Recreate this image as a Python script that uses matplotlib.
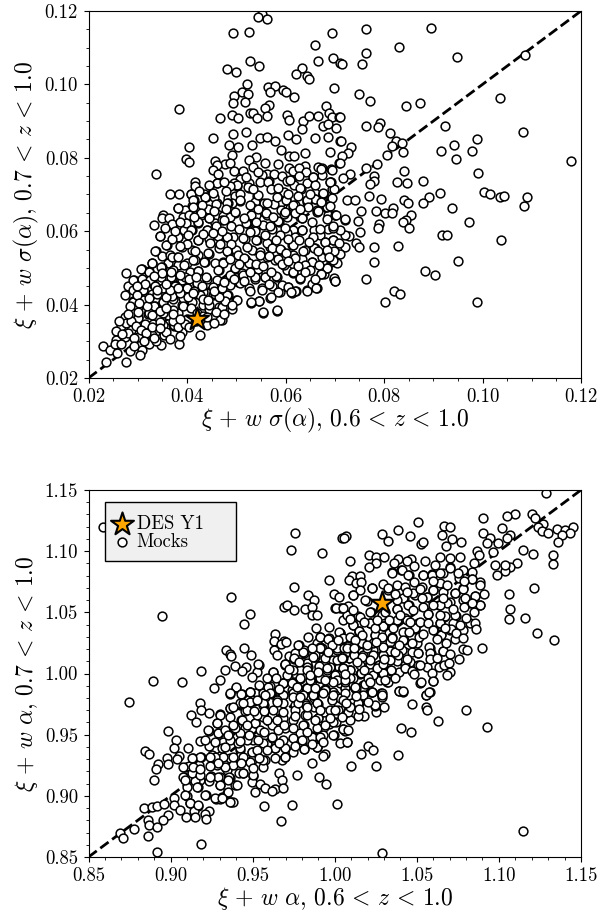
# Scatter of mock values vs DES Y1 for two redshift binnings
import numpy as np
import matplotlib
matplotlib.use('Agg')
import matplotlib.pyplot as plt
from matplotlib.ticker import MultipleLocator, FormatStrFormatter

plt.rcParams['font.family'] = ['cmr10', 'DejaVu Serif']
plt.rcParams['mathtext.fontset'] = 'cm'
plt.rcParams['axes.formatter.use_mathtext'] = True

# values: (0.6<z<1.0, 0.7<z<1.0)
des_sigma = (0.0420, 0.0360)
des_alpha = (1.0287, 1.0574)

mocks_sigma = [
(.0552,.1192),(.0544,.1185),(.0562,.1178),(.0494,.1140),(.0525,.1144),(.0695,.1140),(.0659,.1108),(.0528,.1065),
(.0546,.1050),(.0481,.1042),(.0499,.1034),(.0666,.1065),(.0696,.1072),(.0633,.1045),(.0622,.1027),(.0644,.1024),
(.0647,.1016),(.0710,.1057),(.0522,.1002),(.0564,.0992),(.0579,.0995),(.0569,.0978),(.0595,.0985),(.0602,.0980),
(.0618,.0966),(.0698,.0989),(.0511,.0978),(.0524,.0975),(.0496,.0968),(.0494,.0950),(.0517,.0953),(.0567,.0944),
(.0559,.0936),(.0383,.0932),(.0492,.0916),(.0504,.0908),(.0527,.0921),(.0533,.0923),(.0542,.0908),(.0563,.0914),
(.0467,.0908),(.0604,.0917),(.0608,.0902),(.0636,.0901),(.0647,.0913),(.0666,.0913),(.0683,.0942),(.0689,.0923),
(.0694,.0912),(.0709,.0912),(.0676,.0887),(.0687,.0891),(.0702,.0880),(.0634,.0878),(.0519,.0870),(.0493,.0864),
(.0549,.0853),(.0562,.0857),(.0578,.0847),(.0606,.0862),(.0622,.0850),(.0660,.0854),(.0687,.0858),(.0711,.0847),
(.0452,.0855),(.0486,.0835),(.0503,.0830),(.0532,.0836),(.0404,.0829),(.0398,.0798),(.0405,.0788),(.0591,.0821),
(.0639,.0813),(.0607,.0805),(.0618,.0806),(.0690,.0815),(.0492,.0808),(.0540,.0803),(.0457,.0791),(.0525,.0793),
(.0559,.0785),(.0585,.0784),(.0477,.0782),(.0488,.0785),(.0461,.0780),(.0453,.0768),(.0338,.0756),(.0533,.0774),
(.0496,.0765),(.0513,.0764),(.0463,.0757),(.0607,.0772),(.0615,.0764),(.0640,.0777),(.0628,.0771),(.0642,.0760),
(.0667,.0775),(.0674,.0772),(.0693,.0769),(.0709,.0787),(.0562,.0757),(.0576,.0757),(.0552,.0752),(.0592,.0750),
(.0656,.0748),(.0628,.0751),(.0674,.0753),(.0461,.0730),(.0417,.0733),(.0416,.0723),(.0508,.0741),(.0566,.0737),
(.0603,.0737),(.0611,.0739),(.0549,.0733),(.0495,.0732),(.0502,.0723),(.0525,.0730),(.0525,.0718),(.0643,.0731),
(.0617,.0725),(.0632,.0716),(.0692,.0733),(.0695,.0715),(.0366,.0701),(.0384,.0700),(.0408,.0700),(.0434,.0700),
(.0451,.0705),(.0438,.0692),(.0414,.0685),(.0484,.0691),(.0498,.0695),(.0508,.0701),(.0542,.0696),(.0596,.0706),
(.0660,.0705),(.0677,.0702),(.0659,.0687),(.0643,.0680),(.0620,.0671),(.0600,.0685),(.0590,.0680),(.0576,.0674),
(.0557,.0676),(.0539,.0680),(.0507,.0683),(.0491,.0676),(.0483,.0676),(.0461,.0676),(.0454,.0692),(.0381,.0662),
(.0410,.0669),(.0396,.0658),(.0442,.0660),(.0471,.0666),(.0535,.0662),(.0556,.0653),(.0590,.0658),(.0610,.0662),
(.0630,.0639),(.0664,.0653),(.0684,.0662),(.0701,.0644),(.0352,.0644),(.0349,.0635),(.0364,.0635),(.0392,.0638),
(.0406,.0644),(.0429,.0645),(.0445,.0635),(.0474,.0641),(.0498,.0650),(.0530,.0644),(.0562,.0644),(.0603,.0639),
(.0333,.0616),(.0369,.0616),(.0346,.0586),(.0381,.0583),(.0393,.0603),(.0410,.0603),(.0423,.0623),(.0427,.0657),
(.0440,.0603),(.0457,.0621),(.0471,.0630),(.0488,.0639),(.0522,.0621),(.0540,.0644),(.0586,.0625),(.0596,.0648),
(.0616,.0666),(.0633,.0635),(.0687,.0644),(.0657,.0603),(.0670,.0589),(.0687,.0607),(.0697,.0575),(.0633,.0603),
(.0616,.0603),(.0603,.0594),(.0573,.0607),(.0555,.0616),(.0539,.0607),(.0542,.0575),(.0518,.0580),(.0494,.0585),
(.0481,.0585),(.0461,.0575),(.0444,.0580),(.0423,.0575),(.0359,.0562),(.0337,.0546),(.0350,.0532),(.0365,.0535),
(.0379,.0530),(.0390,.0557),(.0410,.0548),(.0423,.0535),(.0444,.0539),(.0464,.0553),(.0484,.0544),(.0500,.0548),
(.0518,.0525),(.0531,.0548),(.0548,.0544),(.0569,.0557),(.0590,.0548),(.0613,.0562),(.0640,.0548),(.0660,.0553),
(.0680,.0571),(.0700,.0544),(.0693,.0516),(.0674,.0530),(.0653,.0516),(.0633,.0525),(.0616,.0535),(.0596,.0530),
(.0579,.0521),(.0562,.0530),(.0545,.0498),(.0525,.0512),(.0498,.0498),(.0474,.0516),(.0457,.0512),(.0436,.0516),
(.0417,.0521),(.0400,.0512),(.0381,.0507),(.0362,.0512),(.0329,.0514),(.0349,.0503),(.0308,.0496),(.0323,.0492),
(.0276,.0486),(.0293,.0468),(.0309,.0468),(.0326,.0466),(.0345,.0468),(.0369,.0471),(.0390,.0466),(.0406,.0489),
(.0423,.0492),(.0440,.0471),(.0464,.0494),(.0488,.0480),(.0511,.0485),(.0539,.0471),(.0559,.0474),(.0583,.0475),
(.0603,.0494),(.0616,.0486),(.0630,.0471),(.0647,.0494),(.0679,.0483),(.0699,.0471),(.0701,.0464),(.0281,.0450),
(.0291,.0441),(.0311,.0439),(.0333,.0453),(.0351,.0444),(.0376,.0453),(.0401,.0444),(.0420,.0457),(.0433,.0435),
(.0453,.0425),(.0484,.0425),(.0504,.0462),(.0525,.0444),(.0552,.0444),(.0573,.0450),(.0588,.0435),(.0606,.0448),
(.0613,.0432),(.0621,.0437),(.0644,.0439),(.0655,.0453),(.0664,.0444),(.0547,.0410),(.0530,.0405),(.0569,.0419),
(.0555,.0377),(.0582,.0383),(.0291,.0410),(.0311,.0412),(.0335,.0395),(.0351,.0407),(.0372,.0416),(.0389,.0398),
(.0410,.0407),(.0433,.0398),(.0464,.0394),(.0491,.0389),(.0500,.0412),(.0454,.0366),(.0471,.0357),(.0274,.0366),
(.0301,.0365),(.0321,.0375),(.0342,.0366),(.0362,.0371),(.0381,.0377),(.0266,.0341),(.0287,.0330),(.0314,.0341),
(.0335,.0325),(.0355,.0339),(.0373,.0341),(.0389,.0325),(.0399,.0362),(.0440,.0344),(.0426,.0316),(.0256,.0328),
(.0256,.0303),(.0274,.0312),(.0301,.0312),(.0329,.0316),(.0353,.0316),(.0229,.0288),(.0244,.0277),(.0254,.0292),
(.0266,.0294),(.0284,.0274),(.0309,.0277),(.0323,.0294),(.0348,.0291),(.0384,.0294),(.0258,.0269),(.0304,.0262),
(.0236,.0244),(.0276,.0244),
(.0764,.1152),(.0895,.1154),(.0830,.1102),(.0763,.1085),(.0756,.1056),(.0948,.1075),(.1087,.1080),(.0715,.1056),
(.1036,.0964),(.0750,.0975),(.0772,.0954),(.0844,.0942),(.0874,.0948),(.0924,.0888),(.1082,.0870),(.1179,.0790),
(.0763,.0888),(.0791,.0894),(.0788,.0885),(.0812,.0867),(.0825,.0847),(.0837,.0839),(.0817,.0832),(.0839,.0816),
(.0807,.0808),(.0916,.0818),(.0942,.0836),(.0947,.0798),(.0979,.0818),(.0988,.0850),(.0991,.0758),(.1004,.0707),
(.1016,.0702),(.1035,.0692),(.1043,.0697),(.1090,.0694),(.1084,.0670),(.0938,.0663),(.0914,.0705),(.0892,.0694),
(.0880,.0678),(.0880,.0736),(.0841,.0764),(.0827,.0733),(.0847,.0731),(.0780,.0750),(.0780,.0737),(.0772,.0728),
(.0786,.0782),(.0764,.0773),(.0730,.0755),(.0717,.0746),(.0733,.0829),(.0727,.0813),(.0713,.0845),(.0714,.0806),
(.0710,.0786),(.0711,.0912),(.0725,.0685),(.0742,.0686),(.0769,.0695),(.0794,.0689),(.0841,.0684),(.0848,.0678),
(.0819,.0664),(.0803,.0649),(.0784,.0656),(.0754,.0654),(.0855,.0645),(.0845,.0631),(.0972,.0625),(.0721,.0631),
(.0690,.0734),(.0673,.0770),(.0694,.0768),(.0698,.0716),(.0677,.0702),(.0643,.0685),(.0660,.0687),(.0664,.0657),
(.0683,.0666),(.0701,.0644),
(.0816,.0650),(.0839,.0626),(.0851,.0610),(.0747,.0629),(.0721,.0633),(.0702,.0644),(.0751,.0598),(.0790,.0619),
(.0788,.0608),(.0918,.0590),(.0928,.0591),(.1038,.0575),(.0744,.0567),(.0750,.0557),(.0780,.0557),(.0829,.0559),
(.0721,.0558),(.0728,.0587),(.0721,.0589),(.0711,.0603),(.0696,.0610),(.0684,.0632),(.0780,.0516),(.0951,.0520),
(.0883,.0491),(.0904,.0482),(.0763,.0469),(.0698,.0472),(.0700,.0463),(.0820,.0436),(.0832,.0430),(.0803,.0406),
(.0988,.0407),(.0711,.0537),(.0704,.0512),(.0695,.0521),(.0685,.0500),(.0685,.0546),(.0697,.0576),(.0680,.0571),
(.0709,.0568),(.0698,.0547),(.0673,.0483),
# dense band
(.0460,.0731),(.0501,.0726),(.0524,.0720),(.0565,.0735),(.0609,.0740),(.0629,.0717),(.0656,.0749),(.0690,.0735),
(.0409,.0702),(.0436,.0693),(.0453,.0703),(.0487,.0722),(.0507,.0685),(.0545,.0699),(.0582,.0694),(.0602,.0685),
(.0643,.0685),(.0677,.0703),(.0382,.0663),(.0413,.0685),(.0413,.0665),(.0430,.0672),(.0459,.0673),(.0482,.0676),
(.0497,.0653),(.0528,.0672),(.0562,.0676),(.0616,.0672),(.0599,.0653),(.0667,.0656),(.0684,.0667),(.0369,.0619),
(.0404,.0644),(.0428,.0649),(.0444,.0635),(.0476,.0631),(.0529,.0644),(.0560,.0649),(.0585,.0629),(.0633,.0635),
(.0653,.0626),(.0398,.0622),(.0423,.0626),(.0459,.0613),(.0490,.0613),(.0520,.0622),(.0541,.0626),(.0568,.0613),
(.0599,.0608),(.0633,.0604),(.0670,.0605),(.0696,.0613),(.0345,.0587),(.0382,.0583),(.0409,.0604),(.0441,.0604),
(.0423,.0576),(.0463,.0588),(.0482,.0585),(.0514,.0581),(.0540,.0576),(.0562,.0567),(.0538,.0601),(.0589,.0590),
(.0619,.0585),(.0656,.0585),(.0358,.0563),(.0399,.0565),(.0446,.0567),(.0467,.0565),(.0490,.0565),(.0521,.0558),
(.0572,.0555),(.0589,.0551),(.0616,.0563),(.0658,.0555),(.0684,.0549),(.0336,.0547),(.0386,.0560),(.0416,.0545),
(.0443,.0540),(.0482,.0545),(.0504,.0535),(.0548,.0535),(.0567,.0533),(.0602,.0540),(.0636,.0545),(.0697,.0522),
(.0328,.0513),(.0369,.0529),(.0382,.0529),(.0394,.0508),(.0413,.0522),(.0434,.0517),(.0474,.0513),(.0516,.0526),
(.0585,.0524),(.0620,.0526),(.0653,.0517),(.0306,.0496),(.0348,.0502),(.0372,.0495),(.0423,.0492),(.0463,.0495),
(.0497,.0499),(.0545,.0497),(.0597,.0508),(.0639,.0508),(.0684,.0501),(.0323,.0490),(.0367,.0474),(.0396,.0475),
(.0438,.0476),(.0514,.0481),(.0558,.0475),(.0580,.0479),(.0616,.0488),(.0630,.0472),(.0650,.0495),(.0672,.0483),
(.0291,.0467),(.0308,.0469),(.0325,.0467),(.0348,.0476),(.0421,.0458),(.0460,.0467),(.0487,.0454),(.0507,.0460),
(.0538,.0476),(.0567,.0456),(.0592,.0454),(.0606,.0449),(.0654,.0456),(.0662,.0445),(.0310,.0440),(.0335,.0451),
(.0375,.0451),(.0399,.0445),(.0453,.0449),(.0528,.0436),(.0553,.0440),(.0585,.0434),(.0620,.0438),(.0643,.0438),
(.0612,.0433),(.0570,.0422),(.0291,.0408),(.0328,.0429),(.0352,.0408),(.0369,.0424),(.0392,.0417),(.0426,.0427),
(.0457,.0429),(.0482,.0427),(.0501,.0413),(.0547,.0411),(.0529,.0407),(.0301,.0393),(.0333,.0395),(.0372,.0386),
(.0392,.0396),(.0445,.0387),(.0472,.0393),(.0323,.0378),(.0352,.0377),(.0453,.0367),(.0467,.0357),(.0555,.0380),
(.0582,.0385),(.0301,.0363),(.0331,.0347),(.0373,.0345),(.0314,.0347),(.0352,.0345),
(.0276,.0350),(.0286,.0355),(.0296,.0342),(.0306,.0330),(.0316,.0322),(.0280,.0322),(.0292,.0308),(.0312,.0300),
(.0338,.0302),(.0328,.0338),(.0345,.0352),(.0358,.0325),(.0372,.0355),(.0382,.0340),(.0395,.0348),(.0408,.0390),
(.0420,.0378),(.0432,.0368),(.0445,.0400),(.0458,.0380),(.0475,.0375),(.0478,.0410),(.0492,.0398),(.0465,.0420),
(.0432,.0415),(.0318,.0395),(.0328,.0372),(.0345,.0382),(.0358,.0390),(.0372,.0375),(.0385,.0360),(.0298,.0425),
(.0302,.0405),(.0322,.0418),(.0340,.0428),(.0358,.0422),(.0365,.0440),(.0385,.0432),(.0402,.0420),(.0415,.0438),
# gaps in the band, estimated by eye
(.0404,.0470),(.0418,.0476),(.0431,.0452),(.0412,.0432),(.0443,.0413),(.0455,.0438),(.0472,.0445),(.0475,.0462),
(.0495,.0470),(.0515,.0465),(.0528,.0490),(.0505,.0510),(.0488,.0525),(.0540,.0510),(.0555,.0505),(.0570,.0490),
(.0592,.0510),(.0606,.0520),(.0625,.0505),(.0640,.0488),(.0660,.0470),(.0668,.0508),(.0688,.0530),(.0665,.0545),
(.0648,.0570),(.0628,.0575),(.0606,.0578),(.0580,.0575),(.0558,.0590),(.0528,.0598),(.0505,.0605),(.0472,.0600),
(.0452,.0595),(.0432,.0592),(.0402,.0590),(.0370,.0578),(.0375,.0600),(.0355,.0610),(.0385,.0625),(.0415,.0640),
(.0455,.0655),(.0480,.0660),(.0515,.0635),(.0545,.0660),(.0575,.0640),(.0620,.0650),(.0645,.0665),(.0672,.0680),
(.0695,.0690),(.0660,.0725),(.0625,.0695),(.0570,.0715),(.0535,.0715),(.0480,.0710),(.0445,.0725),(.0425,.0710),
(.0475,.0735),(.0520,.0748),(.0545,.0762),(.0585,.0718),(.0606,.0700),(.0650,.0700),(.0690,.0670),(.0630,.0660),
(.0350,.0485),(.0368,.0490),(.0385,.0480),(.0332,.0478),(.0315,.0455),(.0340,.0440),(.0358,.0455),(.0382,.0445),
(.0298,.0450),(.0275,.0425),(.0285,.0395),(.0300,.0380),(.0280,.0375),(.0262,.0355),(.0268,.0320),(.0292,.0288),
(.0332,.0310),(.0345,.0335),(.0365,.0305),(.0385,.0315),(.0405,.0340),(.0418,.0355),(.0455,.0350),(.0440,.0365),
]

mocks_alpha = [
(.8591,1.1201),(.9759,1.1146),(.9732,1.1010),(.9921,1.0983),(1.0043,1.1105),(.9968,1.0765),(.9751,1.0708),(.9836,1.0642),
(.9875,1.0604),(.9996,1.0648),(.9367,1.0626),(.9690,1.0547),(.9708,1.0558),(.9751,1.0520),(.9816,1.0525),(.9860,1.0541),
(.9862,1.0479),(.9892,1.0481),(1.0003,1.0533),(1.0029,1.0533),(.8949,1.0473),(.9483,1.0487),(.9446,1.0402),(.9883,1.0370),
(.9968,1.0381),(1.0029,1.0334),(.9637,1.0326),(.9690,1.0269),(.9627,1.0263),(.9674,1.0244),(.9702,1.0255),(.9840,1.0302),
(.9913,1.0302),(.9962,1.0288),(.9450,1.0212),(.9781,1.0233),(.9891,1.0253),(.9921,1.0206),(1.0003,1.0247),(.9337,1.0190),
(.9359,1.0157),(.9369,1.0143),(.9487,1.0154),(.9627,1.0190),(.9651,1.0152),(.9722,1.0143),(.9759,1.0171),(.9810,1.0165),
(.9753,1.0116),(.9871,1.0138),(.9942,1.0133),(1.0013,1.0111),(.9538,1.0070),(.9393,1.0062),(.9462,1.0054),(.9696,1.0070),
(.9800,1.0097),(.9840,1.0056),(.9905,1.0056),(.9972,1.0056),(1.0023,1.0056),(.9188,1.0018),(.9330,1.0026),(.9434,1.0018),
(.9529,1.0015),(.9625,1.0015),(.9789,1.0029),(.9495,.9969),(.9302,.9950),(.8894,.9942),(.9069,.9928),(.9684,.9920),
(.9749,.9934),(.9789,.9956),(.9905,.9956),(.9265,.9885),(.9397,.9885),(.9603,.9899),(.9739,.9866),(.9826,.9879),
(.9942,.9871),(.9363,.9836),(.9434,.9831),(.9485,.9852),(.9515,.9844),(.9576,.9811),(.9617,.9833),(.9678,.9825),
(.9749,.9819),(.9871,.9797),(.9992,.9852),(.8748,.9767),
(.9180,.9762),(.9184,.9702),(.9237,.9675),(.9127,.9661),(.9155,.9601),(.9298,.9669),(.9363,.9715),(.9399,.9887),
(.9428,.9833),(.9424,.9743),(.9359,.9647),(.9282,.9598),(.8987,.9533),(.9232,.9533),(.9292,.9516),(.9384,.9544),
(.9428,.9620),(.9454,.9696),(.9509,.9778),(.9566,.9743),(.9617,.9661),(.9515,.9598),(.9454,.9552),(.9032,.9457),
(.9181,.9451),(.9363,.9462),(.9319,.9443),(.9233,.9407),(.9404,.9484),(.9505,.9462),(.9586,.9429),(.9637,.9388),
(.9018,.9388),(.9105,.9388),(.8843,.9367),(.8870,.9342),(.9251,.9334),(.9420,.9375),(.9495,.9361),(.9678,.9429),
(.9729,.9435),(.9800,.9429),(.9814,.9380),(.9892,.9402),(.9942,.9342),(.9054,.9326),(.8977,.9307),(.8983,.9260),
(.9038,.9299),(.9134,.9307),(.9184,.9315),(.9302,.9326),(.9332,.9299),(.9420,.9326),(.9495,.9293),(.9577,.9293),
(.9678,.9293),(.9698,.9315),(.9861,.9271),(.9931,.9326),(.8922,.9258),(.8914,.9217),(.9093,.9239),(.9115,.9244),
(.9172,.9255),(.9282,.9252),(.9383,.9260),(.9562,.9233),(.9343,.9211),(.9136,.9184),(.9444,.9184),(.9663,.9184),
(.9768,.9170),(.9245,.9165),(.9299,.9157),(.9505,.9162),(.9079,.9151),(.9099,.9135),(.8902,.9132),(.9359,.9143),
(.9678,.9130),(.9903,.9151),(.9180,.9130),(.9235,.9121),(.9150,.9124),(.9947,.9100),(.9495,.9116),(.9545,.9094),
(.9302,.9089),(.9395,.9089),(.9099,.9075),(.9170,.9070),(.9576,.9067),(.9637,.9059),(.9617,.9042),(.9686,.9061),
(.9516,.9031),(.9344,.9021),(.9217,.9004),(.9097,.8999),(.9313,.8993),(.9276,.8974),(.9302,.8972),(.9018,.8985),
(.9367,.8952),(.9383,.8952),(1.0012,.8933),(.9119,.8939),(.9022,.8923),(.8839,.8901),(.8888,.8911),(.8916,.8920),
(.8961,.8933),(.9170,.8917),(.9566,.8914),(.9740,.8922),(.9056,.8882),(.9144,.8876),(.9236,.8879),(.8982,.8843),
(.9209,.8849),(.9095,.8824),(.9146,.8824),(.9215,.8811),(.8864,.8803),(.8955,.8805),(.8866,.8762),(.8916,.8745),
(.9674,.8792),(.8780,.8729),(.8864,.8669),(.8689,.8694),(.8711,.8653),(.9188,.8609),(.8918,.8541),
(1.1148,.8710),(1.0285,.8530),(1.0798,.9702),(1.0928,.9563),(1.0628,.9615),(1.0468,.9751),(1.0553,.9724),(1.0563,.9702),
(1.0557,.9824),(1.0579,.9846),(1.0521,.9925),(1.0597,.9939),(1.0392,.9854),(1.0417,.9849),(1.0405,.9552),(1.0462,.9525),
(1.0388,.9334),(1.0205,.9410),(1.0232,.9375),(1.0161,.9342),(1.0102,.9244),(1.0252,.9244),(1.0301,.9723),(1.0254,.9688),
(1.0287,.9811),(1.0283,.9843),(1.0321,.9931),(1.0222,.9846),(1.0246,.9734),(1.0179,.9653),(1.0139,.9653),(1.0090,.9620),
(1.0078,.9688),(1.0033,.9715),(1.0007,.9606),(1.0053,.9544),(1.0061,.9530),(.9966,.9587),(1.0074,.9443),(1.0029,.9435),
(.9997,.9497),(.9932,.9566),(.9907,.9484),(.9862,.9489),(.9891,.9402),(.9810,.9579),(.9789,.9511),(.9820,.9661),
(.9871,.9724),(.9901,.9634),(.9820,.9756),(.9871,.9824),(.9830,.9879),(.9982,.9789),(.9932,.9688),(1.0033,.9920),
(1.0063,.9879),(1.0124,.9879),(1.0175,.9906),(1.0104,.9756),(1.0149,.9762),(1.0175,.9830),(1.0003,.9824),
(1.1284,1.1473),(1.1095,1.1307),(1.1048,1.1288),(1.1201,1.1304),(1.1221,1.1269),(1.0906,1.1272),(1.0510,1.1242),(1.0665,1.1204),
(1.0703,1.1201),(1.1018,1.1187),(1.1268,1.1223),(1.1241,1.1201),(1.1262,1.1165),(1.1302,1.1152),(1.1353,1.1179),(1.1400,1.1174),
(1.1453,1.1198),(1.1434,1.1149),(1.1384,1.1133),(1.1361,1.1078),(1.0900,1.1146),(1.1068,1.1133),(1.1052,1.1105),(1.0943,1.1111),
(1.0997,1.1070),(1.0930,1.1070),(1.0388,1.1171),(1.0289,1.1141),(1.0323,1.1084),(1.0461,1.1122),(1.0069,1.1127),(1.0057,1.1108),
(1.0524,1.1056),(1.0537,1.1078),(1.0654,1.1135),(1.0713,1.1097),(1.0772,1.1075),(1.0677,1.1040),(1.0867,1.1002),(1.0880,1.0972),
(1.0967,1.0996),(1.1146,1.1010),(1.1210,1.0980),(1.1331,1.0966),(1.1327,1.0896),(1.1113,1.0904),(1.1068,1.0868),(1.1036,1.0841),
(1.1040,1.0887),(1.0975,1.0887),(1.0991,1.0806),(1.0851,1.0901),(1.0090,1.0923),(1.0211,1.0972),(1.0252,1.0956),(1.0297,1.0950),
(1.0252,1.0901),(1.0211,1.0871),(1.0384,1.0939),(1.0463,1.0934),(1.0439,1.0923),(1.0549,1.0923),(1.0480,1.0879),(1.0608,1.0887),
(1.0642,1.0956),(1.0701,1.0947),(1.0764,1.0956),(1.0703,1.0868),(1.0662,1.0825),(1.0784,1.0847),(1.0835,1.0833),(1.0358,1.0907),
(1.0348,1.0833),(1.0405,1.0847),(1.0450,1.0803),(1.0537,1.0806),(1.0591,1.0811),(1.0754,1.0778),(1.0835,1.0770),(1.0886,1.0751),
(1.0882,1.0724),(1.0912,1.0653),(1.0856,1.0634),(1.0886,1.0563),(1.0825,1.0574),(1.1064,1.0648),(1.1213,1.0697),(1.1068,1.0528),
(1.1062,1.0443),(1.1158,1.0454),(1.1231,1.0334),(1.1334,1.0277),(1.0108,1.0800),(1.0155,1.0800),(1.0084,1.0762),(1.0130,1.0738),
(1.0158,1.0751),(1.0226,1.0697),(1.0291,1.0732),(1.0114,1.0642),(1.0023,1.0629),(1.0196,1.0596),(1.0327,1.0683),(1.0378,1.0724),
(1.0419,1.0615),(1.0480,1.0751),(1.0490,1.0642),(1.0561,1.0629),(1.0601,1.0683),(1.0662,1.0669),(1.0734,1.0656),(1.0784,1.0697),
(1.0784,1.0601),(1.0703,1.0588),(1.0638,1.0560),(1.0551,1.0560),(1.0450,1.0560),(1.0378,1.0525),(1.0220,1.0506),(1.0078,1.0552),
(1.0043,1.0533),(1.0008,1.0533),(1.0074,1.0473),(1.0139,1.0470),(1.0287,1.0479),(1.0212,1.0411),(1.0297,1.0389),(1.0368,1.0424),
(1.0429,1.0451),(1.0510,1.0411),(1.0571,1.0487),(1.0666,1.0465),(1.0740,1.0471),(1.0642,1.0411),(1.0719,1.0411),(1.0784,1.0356),
(1.0703,1.0356),(1.0825,1.0416),(1.0856,1.0416),(1.0860,1.0362),(1.0648,1.0321),(1.0730,1.0283),(1.0602,1.0356),(1.0490,1.0362),
(1.0419,1.0337),(1.0328,1.0329),(1.0246,1.0315),(1.0145,1.0342),(1.0033,1.0329),(1.0094,1.0288),(1.0165,1.0253),(1.0043,1.0288),
(1.0338,1.0261),(1.0419,1.0274),(1.0500,1.0247),(1.0581,1.0212),(1.0662,1.0184),(1.0781,1.0201),(1.0803,1.0190),(1.0894,1.0212),
(1.0585,1.0171),(1.0510,1.0165),(1.0429,1.0179),(1.0338,1.0179),(1.0266,1.0206),(1.0165,1.0179),(1.0094,1.0171),(1.0013,1.0193),
(.9911,1.0220),(.9911,1.0138),(.9992,1.0111),(1.0084,1.0125),(1.0216,1.0084),(1.0273,1.0070),(1.0338,1.0029),(1.0382,1.0103),
(1.0459,1.0097),(1.0510,1.0070),(1.0561,1.0056),(1.0632,1.0056),(1.0668,1.0070),(1.0693,1.0089),(1.0754,1.0116),(1.0703,1.0010),
(1.0683,.9988),(1.0595,1.0002),(1.0597,.9942),(1.0523,.9931),(1.0429,1.0043),(1.0389,1.0016),(1.0317,.9942),(1.0277,.9947),
(1.0216,.9961),(1.0155,.9998),(1.0090,1.0029),(1.0023,.9998),(.9952,1.0029),(.9871,.9974),(.9911,.9920),(.9992,.9947),
(1.0094,.9920),(1.0175,.9893),(1.0226,.9852),(1.0287,.9838),(1.0124,.9879),(1.0389,.9857),(1.0415,.9855),(1.0557,.9825),
(1.0577,.9852),(.9942,.9866),(.9850,.9893),(.9830,1.0084),(.9810,1.0193),(.9881,1.0138),
(.9910,1.0301),(.9961,1.0280),(1.0028,1.0339),(1.0048,1.0282),(1.0113,1.0397),(1.0150,1.0350),(1.0164,1.0260),(1.0214,1.0410),
(1.0245,1.0315),(1.0296,1.0391),(1.0346,1.0296),(1.0336,1.0192),(1.0292,1.0160),(1.0235,1.0192),(1.0174,1.0151),(1.0117,1.0160),
(1.0062,1.0165),(1.0016,1.0206),(1.0016,1.0110),(.9940,1.0130),(.9880,1.0151),(.9910,1.0206),(.9808,1.0179),(.9778,1.0233),
(.9754,1.0124),(.9833,1.0056),(.9904,1.0064),(.9971,1.0056),(1.0089,1.0029),(1.0158,1.0007),(1.0269,1.0070),(1.0340,1.0023),
(1.0286,1.0002),(1.0215,1.0015),(1.0113,.9961),(1.0032,.9988),(1.0001,.9988),(.9906,.9961),(.9788,1.0029),(.9717,.9974),
(.9788,.9961),(.9697,1.0078),(.9683,.9920),(.9829,.9879),(.9940,.9871),(1.0062,.9879),(1.0127,.9879),(1.0225,.9846),
(1.0174,.9824),(1.0286,.9824),(1.0103,.9756),(1.0022,.9756),(.9900,.9751),(.9869,.9824),(.9748,.9839),(.9687,.9824),
(.9609,.9838),(.9565,.9743),(.9504,.9784),(.9423,.9751),(.9758,.9743),(.9825,.9743),(1.0245,.9743),(1.0143,.9762),
(1.0326,1.0696),(1.0418,1.0614),(1.0479,1.0655),(1.0560,1.0628),(1.0641,1.0737),(1.0732,1.0655),(1.0783,1.0688),(1.0854,1.0633),
(1.0885,1.0560),(1.0787,1.0546),(1.0682,1.0573),(1.0641,1.0560),(1.0540,1.0546),(1.0448,1.0560),(1.0377,1.0524),(1.0306,1.0505),
(1.0215,1.0505),(1.0154,1.0464),(1.0215,1.0410),(1.0296,1.0388),(1.0414,1.0342),(1.0489,1.0369),(1.0570,1.0486),(1.0672,1.0470),
(1.0733,1.0478),(1.0641,1.0415),(1.0763,1.0396),(1.0706,1.0361),(1.0647,1.0314),(1.0576,1.0214),(1.0513,1.0295),(1.0469,1.0178),
(1.0509,1.0165),(1.0580,1.0165),(1.0661,1.0186),(1.0428,1.0069),(1.0337,1.0186),(1.0292,1.0151),(1.0215,1.0077),(1.0272,1.0069),
(1.0164,1.0252),(1.0235,1.0246),(1.0347,1.0287),(1.0117,1.0151),(1.0058,1.0205),(1.0048,1.0287),(1.0048,1.0437),(1.0113,1.0396),
(1.0077,1.0478),(1.0148,1.0350),(1.0343,1.0028),(1.0158,1.0001),(1.0093,1.0028),(1.0235,.9987),(1.0326,.9933),(1.0123,.9892),
(1.0184,.9914),(1.0062,.9933),(1.0428,1.0042),(1.0469,1.0023),
(.9484,.9851),(.9565,.9838),(.9687,.9824),(.9748,.9919),(.9809,.9824),(.9870,.9824),(.9941,.9865),(1.0032,.9797),
(.9971,.9701),(.9900,.9633),(.9829,.9660),(.9758,.9701),(.9687,.9756),(.9626,.9701),(.9565,.9756),(.9515,.9592),
(.9464,.9701),(.9616,.9579),(.9697,.9551),(.9809,.9579),(.9890,.9551),(1.0053,.9543),(.9931,.9497),(.9860,.9483),
(.9748,.9470),(.9616,.9470),(.9504,.9456),(.9423,.9511),(.9362,.9456),(.9291,.9511),(.9423,.9388),(.9494,.9361),
(.9565,.9429),(.9636,.9388),(.9565,.9293),(.9484,.9279),(.9362,.9306),(.9322,.9320),(.9271,.9320),(.9383,.9252),
(.9332,.9238),(.9697,.9388),(.9748,.9361),(.9813,.9380),(.9697,.9314),(.9890,.9396),(.9419,.9184),(.9444,.9184),
(.9504,.9170),(.9358,.9156),(.9291,.9156),(.9129,.9184),(.9078,.9156),(.9565,.9647),(.9423,.9756),(.9362,.9715),
(.9301,.9660),(.9281,.9592),(.9230,.9538),(.9433,.9620),(.9687,.9633),(.9748,.9620),(.9992,.9497),(1.0073,.9442),
(.9931,.9838),(1.0093,.9728),(1.0012,.9947),(.9911,.9960),(.9829,1.0028),(.9748,1.0028),(.9697,1.0077),(.9626,1.0015),
(.9535,1.0077),(.9850,.9947),(.9687,.9919),(.9596,.9892),
# more of the dense band
(1.0408,1.0846),(1.0347,1.0818),(1.0448,1.0805),(1.0536,1.0805),(1.0590,1.0805),(1.0702,1.0859),(1.0753,1.0818),(1.0834,1.0769),
(1.0641,1.0818),(1.0428,1.0709),(1.0529,1.0709),(1.0600,1.0682),(1.0682,1.0723),(1.0793,1.0614),(1.0834,1.0573),(1.0601,1.0560),
(1.0529,1.0614),(1.0377,1.0600),(1.0184,1.0600),(1.0154,1.0682),(1.0113,1.0641),(1.0225,1.0696),(1.0052,1.0532),(1.0113,1.0519),
(1.0296,1.0573),(1.0377,1.0437),(1.0519,1.0423),(1.0438,1.0437),(1.0570,1.0410),(1.0479,1.0519),(1.0600,1.0355),(1.0641,1.0478),
(1.0672,1.0369),(1.0357,1.0369),(1.0245,1.0369),(1.0093,1.0301),(1.0164,1.0314),(1.0286,1.0301),(1.0418,1.0273),(1.0469,1.0246),
(1.0296,1.0219),(1.0194,1.0205),(1.0113,1.0219),(1.0408,1.0192),(1.0235,1.0151),(1.0164,1.0137),(1.0052,1.0124),(1.0337,1.0110),
(1.0387,1.0151),(1.0519,1.0069),(1.0296,1.0001),(1.0205,.9960),(1.0093,.9960),(1.0255,1.0042),(1.0154,1.0069),(1.0052,1.0042),
(.9484,.9769),(.9525,.9783),(.9606,.9838),(.9647,.9783),(.9748,.9810),(.9779,.9756),(.9890,.9756),(.9982,.9783),
(1.0022,.9701),(1.0063,.9838),(.9911,.9701),(.9829,.9729),(.9687,.9688),(.9525,.9660),(.9586,.9620),(.9464,.9579),
(.9393,.9551),(.9332,.9538),(.9545,.9538),(.9657,.9538),(.9748,.9551),(.9829,.9524),(.9992,.9606),(1.0042,.9647),
(.9941,.9579),(.9413,.9429),(.9464,.9456),(.9535,.9456),(.9687,.9456),(.9799,.9456),(.9911,.9483),(.9312,.9388),
(.9586,.9374),(.9525,.9374),(.9636,.9306),(.9444,.9320),(.9383,.9320),(.9240,.9320),(.9210,.9456),(.9271,.9442),
(.9352,.9497),(.9504,.9224),(.9403,.9088),(.9352,.9129),(.9291,.9265),(.9240,.9156),(.9180,.9320),(.9129,.9306),
(.9078,.9238),(.9139,.9238),(.9088,.9129),(.9180,.9170),(.9301,.9088),(.9352,.9034),(.9271,.8979),(.9312,.8979),
(.9362,.8952),(.9210,.9006),(.9088,.9006),(.9159,.9075),(.9119,.8938),(.9169,.8925),
(.9869,1.0138),(.9951,1.0042),(1.0042,1.0124),(1.0052,1.0042),(1.0133,1.0097),(1.0215,1.0110),(1.0296,1.0078),(1.0367,1.0179),
(1.0194,1.0233),(1.0123,1.0274),(1.0072,1.0206),(.9981,1.0233),(.9849,.9988),(.9737,.9920),(.9707,.9988),(.9991,.9933),
(1.0062,.9947),(1.0215,.9933),(1.0306,.9947),(.9940,.9947),(.9879,.9879),(.9991,.9824),(1.0052,.9784),(.9788,.9811),
(.9575,.9824),(.9646,.9770),(.9382,.9729),(.9484,.9852),(.9362,.9838),
# gaps in the band, estimated by eye
(1.0455,1.0340),(1.0540,1.0320),(1.0620,1.0280),(1.0680,1.0250),(1.0740,1.0330),(1.0800,1.0450),(1.0720,1.0530),(1.0660,1.0620),
(1.0600,1.0760),(1.0520,1.0690),(1.0440,1.0670),(1.0370,1.0650),(1.0260,1.0440),(1.0180,1.0420),(1.0090,1.0445),(1.0330,1.0440),
(1.0400,1.0480),(1.0460,1.0420),(1.0250,1.0260),(1.0390,1.0230),(1.0440,1.0120),(1.0300,1.0120),(1.0180,1.0030),(1.0120,1.0210),
(1.0020,1.0270),(.9960,1.0175),(.9860,1.0210),(.9780,1.0090),(.9720,1.0035),(.9640,.9960),(.9590,.9960),(.9540,.9910),
(.9660,.9870),(.9770,.9890),(.9900,1.0010),(1.0060,1.0000),(1.0130,.9820),(1.0070,.9760),(.9970,.9640),(.9880,.9620),
(.9760,.9650),(.9650,.9620),(.9570,.9520),(.9480,.9500),(.9420,.9450),(.9570,.9690),(.9690,.9580),(.9660,.9430),
(.9760,.9410),(.9860,.9420),(.9930,.9440),(.9540,.9310),(.9430,.9270),(.9330,.9400),(.9240,.9240),(.9180,.9220),
(.9440,.9760),(.9510,.9690),(.9380,.9580),(.9620,.9480),(1.0000,.9700),(1.0080,.9540),(1.0150,.9710),(1.0200,.9770),
(1.0480,1.0000),(1.0370,.9960),(1.0580,1.0120),(1.0620,1.0130),(1.0700,1.0160),(1.0780,1.0290),(1.0850,1.0500),(1.0790,1.0760),
]

x_sigma, y_sigma = np.array(mocks_sigma).T
x_alpha, y_alpha = np.array(mocks_alpha).T

fig = plt.figure(figsize=(6.11, 9.14), dpi=100)
ax1 = fig.add_axes([88.5/611, 1-378/914, 492.5/611, 367/914])
ax2 = fig.add_axes([88.5/611, 1-857/914, 492.5/611, 367/914])

# top panel
ax1.plot([0.02, 0.12], [0.02, 0.12], 'k--', lw=2, zorder=1)
ax1.scatter(x_sigma, y_sigma, s=40, facecolor='white', edgecolor='k', linewidth=1.1, zorder=2)
ax1.scatter(*des_sigma, marker='*', s=300, facecolor='orange', edgecolor='k', linewidth=1.5, zorder=3)
ax1.set_xlim(0.02, 0.12)
ax1.set_ylim(0.02, 0.12)
ax1.xaxis.set_major_locator(MultipleLocator(0.02))
ax1.yaxis.set_major_locator(MultipleLocator(0.02))
ax1.xaxis.set_minor_locator(MultipleLocator(0.005))
ax1.yaxis.set_minor_locator(MultipleLocator(0.005))
ax1.set_xlabel(r'$\xi\,+\,w\ \sigma(\alpha),\, 0.6\,<\,z\,<\,1.0$', fontsize=17, labelpad=0)
ax1.set_ylabel(r'$\xi\,+\,w\ \sigma(\alpha),\, 0.7\,<\,z\,<\,1.0$', fontsize=17, labelpad=3)

# bottom panel
ax2.plot([0.85, 1.15], [0.85, 1.15], 'k--', lw=2, zorder=1)
mock_pts = ax2.scatter(x_alpha, y_alpha, s=40, facecolor='white', edgecolor='k', linewidth=1.1, zorder=2, label='Mocks')
des_pt = ax2.scatter(*des_alpha, marker='*', s=300, facecolor='orange', edgecolor='k', linewidth=1.5, zorder=3, label='DES Y1')
ax2.set_xlim(0.85, 1.15)
ax2.set_ylim(0.85, 1.15)
ax2.xaxis.set_major_locator(MultipleLocator(0.05))
ax2.yaxis.set_major_locator(MultipleLocator(0.05))
ax2.xaxis.set_minor_locator(MultipleLocator(0.01))
ax2.yaxis.set_minor_locator(MultipleLocator(0.01))
ax2.set_xlabel(r'$\xi\,+\,w\ \alpha,\, 0.6\,<\,z\,<\,1.0$', fontsize=17, labelpad=0)
ax2.set_ylabel(r'$\xi\,+\,w\ \alpha,\, 0.7\,<\,z\,<\,1.0$', fontsize=17, labelpad=3)
leg = ax2.legend(handles=[des_pt, mock_pts], loc='upper left', bbox_to_anchor=(0.0329, 0.801, 0.2666, 0.167),
                 mode='expand', borderaxespad=0, fontsize=13.5, fancybox=False, edgecolor='k',
                 facecolor='#f0f0f0', framealpha=1, labelspacing=0, handlelength=0.8,
                 handletextpad=0.4, borderpad=0.5, title=' ', title_fontsize=3)
leg.set_zorder(5)
leg.get_frame().set_linewidth(1)

for ax in (ax1, ax2):
    ax.xaxis.set_major_formatter(FormatStrFormatter('%.2f'))
    ax.yaxis.set_major_formatter(FormatStrFormatter('%.2f'))
    ax.tick_params(which='major', labelsize=13.5, length=3.5, width=0.8, pad=4)
    ax.tick_params(which='minor', length=2.5, width=0.6)

fig.savefig('out.png', dpi=100)
